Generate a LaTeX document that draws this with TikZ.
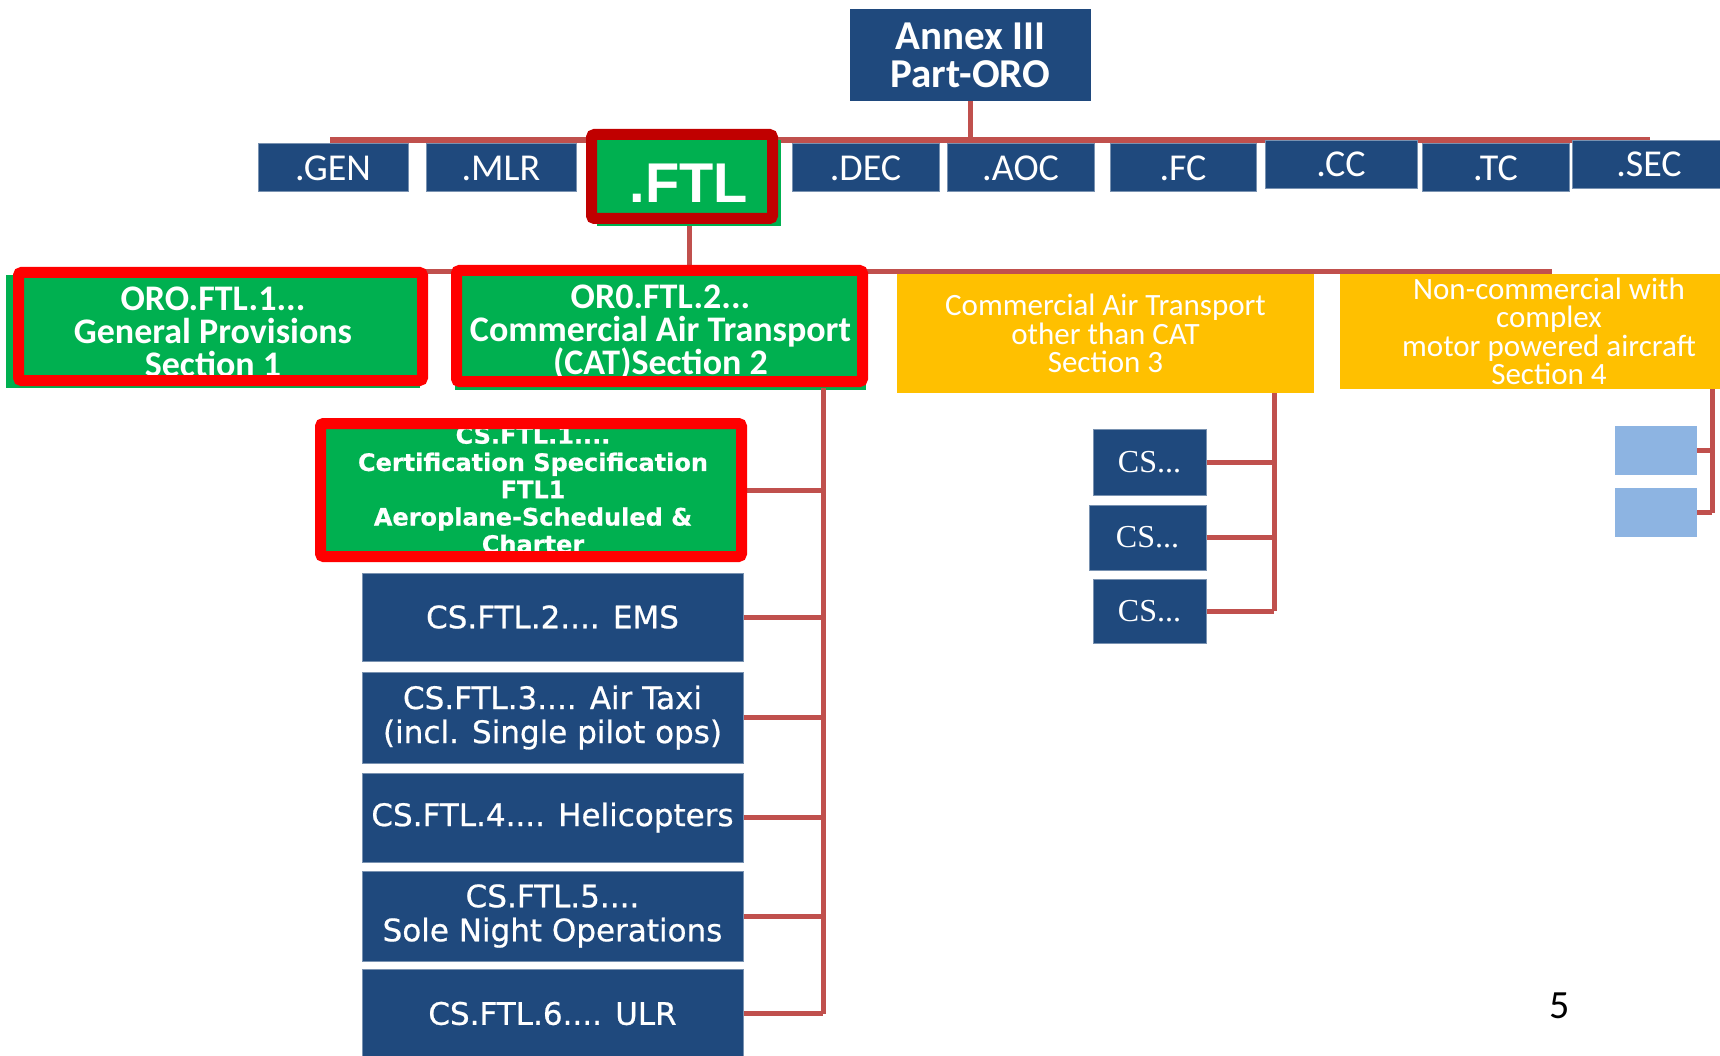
\documentclass[tikz,border=0pt]{standalone}
\usepackage{fontspec}
\setmainfont{Carlito}
\newfontfamily\csfont[FakeBold=0.6]{DejaVu Sans}
\newfontfamily\ftlfont{Liberation Sans}
\newfontfamily\dotsfont{Liberation Serif}

\definecolor{navy}{RGB}{31,73,125}
\definecolor{oroGreen}{RGB}{0,176,80}
\definecolor{oroYellow}{RGB}{255,192,0}
\definecolor{linkRed}{RGB}{192,80,77}
\definecolor{frameRed}{RGB}{255,0,0}
\definecolor{darkRed}{RGB}{192,0,0}
\definecolor{paleBlue}{RGB}{141,180,226}

\tikzset{
    link/.style={draw=linkRed, line width=5pt},
    box/.style={fill=#1, text=white, inner sep=0pt, align=center},
    subpart/.style={box=navy, draw=navy!60!white, line width=1pt, minimum height=48,
        font=\fontsize{38}{40}\selectfont},
    section/.style={box=oroGreen, font=\bfseries\fontsize{36}{33}\selectfont},
    other/.style={box=oroYellow, font=\fontsize{31}{28.5}\selectfont},
    spec/.style={box=navy, draw=navy!60!white, line width=1pt, minimum width=381,
        font=\csfont\fontsize{31}{34}\selectfont},
    csdots/.style={box=navy, draw=navy!60!white, line width=1pt,
        font=\dotsfont\fontsize{32}{32}\selectfont},
    blank/.style={fill=paleBlue, inner sep=0pt, minimum width=82, minimum height=49},
    frame/.style={draw=frameRed, line width=11pt, rounded corners=3pt},
}

\begin{document}
\begin{tikzpicture}[x=1pt, y=-1pt]
    \useasboundingbox (0,0) rectangle (1720,1056);
    % buses
    \coordinate (topbusL) at (330,140);
    \coordinate (topbusR) at (1650,140);
    \coordinate (midbusL) at (20,272);
    \coordinate (midbusR) at (1552,272);
    \draw[link, line width=6pt] (topbusL) -- (topbusR);
    \draw[link] (midbusL) -- (midbusR);

    % Annex and its parts
    \node[box=navy, minimum width=241, minimum height=92, font=\bfseries\fontsize{41}{38}\selectfont] (annex) at (970.5,55) {Annex III\\Part-ORO};
    \node[subpart, minimum width=150] (gen) at (333,168) {.GEN};
    \node[subpart, minimum width=150] (mlr) at (501,168) {.MLR};
    \node[box=oroGreen, minimum width=184, minimum height=86, font=\ftlfont\bfseries\fontsize{56}{56}\selectfont] (ftl) at (689,183) {.FTL};
    \node[subpart, minimum width=147] (dec) at (865.5,168) {.DEC};
    \node[subpart, minimum width=147] (aoc) at (1020.5,168) {.AOC};
    \node[subpart, minimum width=146] (fc) at (1183,168) {.FC};
    \node[subpart, minimum width=152] (cc) at (1341,164.5) {.CC};
    \node[subpart, minimum width=147] (tc) at (1495.5,168) {.TC};
    \node[subpart, minimum width=154] (sec) at (1649,164.5) {.SEC};
    \draw[link] (annex.south) -- (annex.south |- topbusL);
    \draw[link] (ftl.south) -- (ftl.south |- midbusL);

    % sections
    \node[section, minimum width=414, minimum height=113] (sec1) at (213,331.5) {ORO.FTL.1...\\General Provisions\\Section 1};
    \node[section, minimum width=411, minimum height=115] (sec2) at (660.5,332.5) {OR0.FTL.2...\\Commercial Air Transport\\(CAT)Section 2};
    \node[other, minimum width=417, minimum height=119] (sec3) at (1105.5,333.5) {Commercial Air Transport\\other than CAT\\Section 3};
    \node[other, minimum width=418, minimum height=115] (sec4) at (1549,331.5) {Non-commercial with\\complex\\motor powered aircraft\\Section 4};

    % CAT specifications
    \node[box=oroGreen, minimum width=420, minimum height=132] (cs1) at (532,490) {};
    \begin{scope}
        \clip (cs1.south west) rectangle (cs1.north east);
        \node[text=white, align=center, font=\csfont\bfseries\fontsize{24}{27.3}\selectfont] (cs1label) at (533,489.5) {CS.FTL.1....\\Certification Specification\\FTL1\\Aeroplane-Scheduled \&\\Charter};
    \end{scope}
    \node[spec, minimum height=88] (cs2) at (552.5,617) {CS.FTL.2.... EMS};
    \node[spec, minimum height=91] (cs3) at (552.5,717.5) {CS.FTL.3.... Air Taxi\\(incl. Single pilot ops)};
    \node[spec, minimum height=89] (cs4) at (552.5,817.5) {CS.FTL.4.... Helicopters};
    \node[spec, minimum height=90] (cs5) at (552.5,916) {CS.FTL.5....\\Sole Night Operations};
    \node[spec, minimum height=89] (cs6) at (552.5,1013.5) {CS.FTL.6.... ULR};
    \coordinate (catbus) at (823,388);
    \draw[link] (catbus) -- (catbus |- cs6.east);
    \foreach \n in {cs1,cs2,cs3,cs4,cs5,cs6}
        \draw[link] (\n.east) -- (\n.east -| catbus);

    % other CAT
    \node[csdots, minimum width=113, minimum height=66] (csa) at (1149.5,462) {CS...};
    \node[csdots, minimum width=117, minimum height=65] (csb) at (1147.5,537.5) {CS...};
    \node[csdots, minimum width=113, minimum height=64] (csc) at (1149.5,611) {CS...};
    \coordinate (ocatbus) at (1274,393);
    \draw[link] (ocatbus) -- (ocatbus |- csc.east);
    \foreach \n in {csa,csb,csc}
        \draw[link] (\n.east) -- (\n.east -| ocatbus);

    % non-commercial
    \node[blank] (nca) at (1656,450.5) {};
    \node[blank] (ncb) at (1656,512.5) {};
    \coordinate (ncbus) at (1712,389);
    \draw[link] (ncbus) -- (ncbus |- ncb.east);
    \draw[link] (nca.east) -- (nca.east -| ncbus);
    \draw[link] (ncb.east) -- (ncb.east -| ncbus);

    % highlights
    \draw[frame, draw=darkRed] (591.5,134.5) rectangle (772.5,218.5);
    \draw[frame] (18.5,272.5) rectangle (422.5,380.5);
    \draw[frame] (456.5,270.5) rectangle (862.5,381.5);
    \draw[frame] (320.5,423.5) rectangle (741.5,556.5);

    \node[font=\fontsize{40}{40}\selectfont] (page) at (1560,1006) {5};
\end{tikzpicture}
\end{document}
